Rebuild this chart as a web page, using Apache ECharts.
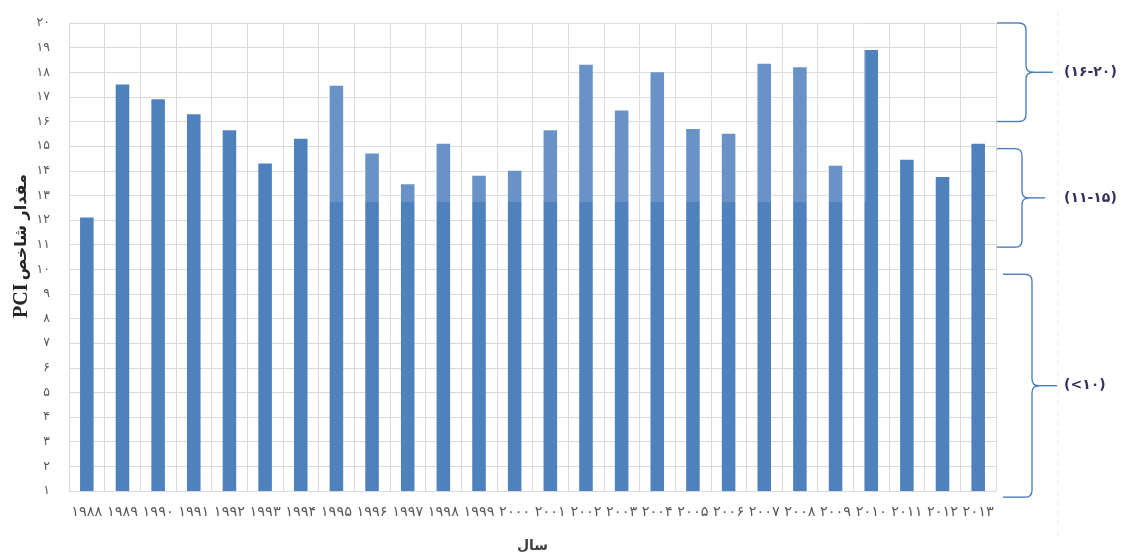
<!DOCTYPE html>
<html>
<head>
<meta charset="utf-8">
<script src="https://cdn.jsdelivr.net/npm/echarts@6/dist/echarts.min.js"></script>
<style>
  html, body { margin: 0; padding: 0; background: #ffffff; }
  #chart { width: 1126px; height: 554px; }
</style>
</head>
<body>
<div id="chart"></div>
<script>
// Years (category axis) and PCI value per year
const years = [1988, 1989, 1990, 1991, 1992, 1993, 1994, 1995, 1996, 1997, 1998, 1999, 2000,
               2001, 2002, 2003, 2004, 2005, 2006, 2007, 2008, 2009, 2010, 2011, 2012, 2013];
const pciValues = [12.1, 17.5, 16.9, 16.3, 15.65, 14.3, 15.3, 17.45, 14.7, 13.45, 15.1, 13.8, 14.0,
                   15.65, 18.3, 16.45, 18.0, 15.7, 15.5, 18.35, 18.2, 14.2, 18.9, 14.45, 13.75, 15.1];

// Value axis range
const yMin = 1;
const yMax = 20;
const yStep = 1;

// Class bands shown with braces on the right side
const bandLabels = ['(۱۶-۲۰)', '(۱۱-۱۵)', '(<۱۰)'];
const bandFrom   = [16, 10.9, 0.75];
const bandTo     = [20, 14.9, 9.8];

// Axis titles
const yTitleLatin = 'PCI';
const yTitlePersian = 'مقدار شاخص';
const xTitle = 'سال';

const persianDigits = '۰۱۲۳۴۵۶۷۸۹';
function toPersian(v) {
  return String(v).replace(/\d/g, d => persianDigits[d]);
}

const chart = echarts.init(document.getElementById('chart'), null, { renderer: 'canvas' });

const LINE = '#d9d9d9';
const TEXT = '#595959';

chart.setOption({
  animation: false,
  backgroundColor: '#ffffff',
  grid: { left: 69, right: 130, top: 23, bottom: 63, outerBoundsMode: 'none', containLabel: false },
  xAxis: {
    type: 'category',
    data: years,
    boundaryGap: true,
    name: xTitle,
    nameLocation: 'middle',
    nameGap: 48,
    nameTextStyle: { fontFamily: 'DejaVu Sans', fontSize: 14, fontWeight: 'bold', color: '#404040' },
    axisLine: { show: true, lineStyle: { color: LINE, width: 1 } },
    axisTick: { show: false },
    splitLine: { show: true, lineStyle: { color: LINE, width: 1 } },
    axisLabel: {
      interval: 0,
      hideOverlap: false,
      margin: 14,
      fontFamily: 'DejaVu Sans',
      fontSize: 14.5,
      color: TEXT,
      formatter: v => toPersian(v)
    }
  },
  yAxis: {
    type: 'value',
    min: yMin,
    max: yMax,
    interval: yStep,
    axisLine: { show: true, lineStyle: { color: LINE, width: 1 } },
    axisTick: { show: false },
    splitLine: { show: true, lineStyle: { color: LINE, width: 1 } },
    axisLabel: {
      margin: 19,
      fontFamily: 'DejaVu Sans',
      fontSize: 12.5,
      color: TEXT,
      formatter: v => toPersian(v)
    }
  },
  series: [{
    type: 'bar',
    data: pciValues,
    barWidth: '38%',
    itemStyle: { color: '#4f81bd' }
  }]
});

// Brace geometry: left end, spine and tip x positions (pixels)
const braceX = [
  { x0: 997, spine: 1026, tip: 1053 },
  { x0: 997, spine: 1022, tip: 1045 },
  { x0: 1003, spine: 1032, tip: 1057 }
];
const BRACE_STYLE = { stroke: '#4a7ebb', lineWidth: 1.4, fill: 'none' };

// A right-pointing curly brace built from straight and curved pieces
function braceParts(x0, spine, tip, y0, y1) {
  const r = 7;
  const ym = (y0 + y1) / 2;
  const line = (x1, y1_, x2, y2) => ({
    type: 'line', z: 50, silent: true,
    shape: { x1: x1, y1: y1_, x2: x2, y2: y2 }, style: BRACE_STYLE
  });
  const curve = (x1, y1_, cx, cy, x2, y2) => ({
    type: 'bezierCurve', z: 50, silent: true,
    shape: { x1: x1, y1: y1_, cpx1: cx, cpy1: cy, x2: x2, y2: y2 }, style: BRACE_STYLE
  });
  return [
    line(x0, y0, spine - r, y0),
    curve(spine - r, y0, spine, y0, spine, y0 + r),
    line(spine, y0 + r, spine, ym - r),
    curve(spine, ym - r, spine, ym, spine + r, ym),
    line(spine + r, ym, tip, ym),
    curve(spine + r, ym, spine, ym, spine, ym + r),
    line(spine, ym + r, spine, y1 - r),
    curve(spine, y1 - r, spine, y1, spine - r, y1),
    line(spine - r, y1, x0, y1)
  ];
}

const graphics = [];

// Light haze over the upper middle part of the plot
graphics.push({
  type: 'rect',
  z: 100,
  silent: true,
  shape: { x: 322, y: 0, width: 544, height: 202 },
  style: { fill: 'rgba(255,255,255,0.15)' }
});

// Faint dashed guide right of the braces
graphics.push({
  type: 'line',
  z: 1,
  silent: true,
  shape: { x1: 1058, y1: 10, x2: 1058, y2: 540 },
  style: { stroke: '#ececec', lineWidth: 1, lineDash: [6, 4] }
});

bandLabels.forEach((label, i) => {
  const yTop = chart.convertToPixel({ yAxisIndex: 0 }, bandTo[i]);
  const yBot = chart.convertToPixel({ yAxisIndex: 0 }, bandFrom[i]);
  const b = braceX[i];
  braceParts(b.x0, b.spine, b.tip, yTop, yBot).forEach(p => graphics.push(p));
  graphics.push({
    type: 'text',
    z: 50,
    silent: true,
    x: 1064,
    y: (yTop + yBot) / 2,
    style: {
      text: label,
      fontFamily: 'DejaVu Sans',
      fontSize: 14,
      fontWeight: 'bold',
      fill: '#3a3060',
      align: 'left',
      verticalAlign: 'middle'
    }
  });
});

// Vertical value-axis title
graphics.push({
  type: 'text',
  z: 50,
  silent: true,
  x: 22,
  y: 246,
  rotation: Math.PI / 2,
  style: {
    text: '{a|' + yTitleLatin + '} {b|' + yTitlePersian + '}',
    align: 'center',
    verticalAlign: 'middle',
    rich: {
      a: { fontFamily: 'Liberation Serif', fontSize: 20, fontWeight: 'bold', fill: '#262626' },
      b: { fontFamily: 'DejaVu Sans', fontSize: 16, fontWeight: 'bold', fill: '#262626' }
    }
  }
});

chart.setOption({ graphic: graphics });
</script>
</body>
</html>
